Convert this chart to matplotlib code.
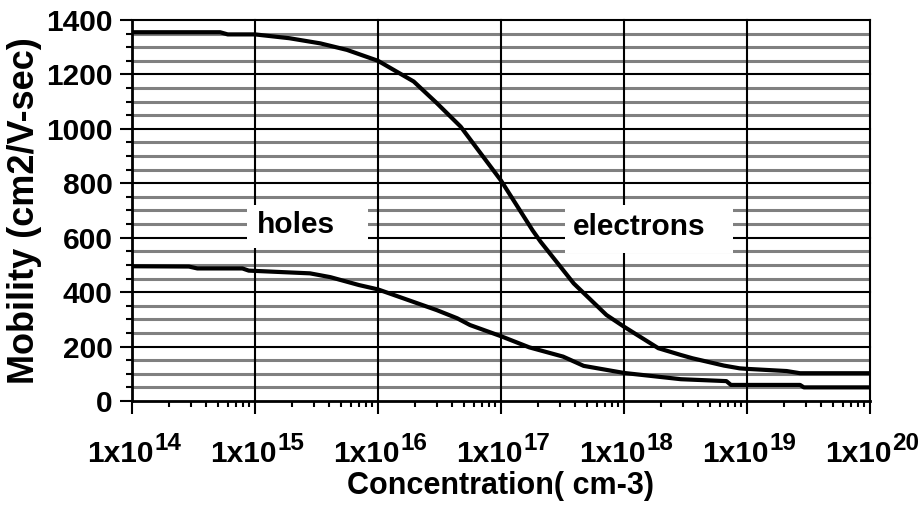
import matplotlib
matplotlib.use('Agg')
import numpy as np
import matplotlib.pyplot as plt
from matplotlib.patches import Rectangle
from matplotlib.ticker import FixedLocator, LogLocator, MultipleLocator, NullFormatter

plt.rcParams['font.family'] = 'Liberation Sans'
plt.rcParams['font.weight'] = 'bold'

# electron mobility vs doping (cm-3, cm2/V-sec)
elec_conc = [1e14, 5.2e14, 6e14, 1e15, 1.9e15, 3.4e15, 5.6e15, 1e16, 1.95e16, 3e16,
             4.7e16, 1e17, 1.8e17, 2.1e17, 3.9e17, 7.2e17, 1e18, 1.9e18, 2.9e18,
             3.6e18, 6.5e18, 8.7e18, 1e19, 2.1e19, 2.7e19, 1e20]
elec_mob = [1355, 1355, 1347, 1347, 1333, 1314, 1290, 1250, 1174, 1095,
            1008, 810, 628, 585, 432, 316, 273, 194, 169,
            157, 130, 120, 118, 110, 102, 102]

# hole mobility vs doping
hole_conc = [1e14, 2.9e14, 3.4e14, 7.9e14, 8.9e14, 2.8e15, 4.1e15, 7e15, 1e16, 3e16,
             4.4e16, 5.6e16, 1e17, 1.7e17, 3.2e17, 4.7e17, 1e18, 2.9e18, 6.8e18,
             7.4e18, 2.7e19, 2.9e19, 1e20]
hole_mob = [495, 494, 487, 487, 479, 469, 455, 426, 410, 334,
            304, 279, 238, 197, 163, 129, 103, 80, 73,
            59, 59, 50, 50]

xticks = [1e14, 1e15, 1e16, 1e17, 1e18, 1e19, 1e20]
xtick_exps = ['14', '15', '16', '17', '18', '19', '20']

my_dpi = 100
fig = plt.figure(figsize=(918/my_dpi, 511/my_dpi), dpi=my_dpi)
ax = fig.add_axes([0.1438, 0.2153, 0.8039, 0.7456])

ax.set_xscale('log')
ax.set_xlim(1e14, 1e20)
ax.set_ylim(0, 1400)

# grid: gray every 50, black every 200 and each decade
for v in range(50, 1400, 50):
    if v % 200 != 0:
        ax.axhline(v, color='#808080', lw=2.2, zorder=1)
for v in range(200, 1401, 200):
    ax.axhline(v, color='black', lw=1.5, zorder=2, clip_on=False)
for xv in xticks[1:]:
    ax.axvline(xv, color='black', lw=1.5, zorder=2, clip_on=False)

ax.plot(elec_conc, elec_mob, color='black', lw=3, zorder=4)
ax.plot(hole_conc, hole_mob, color='black', lw=3, zorder=4)

# white label boxes
ax.add_patch(Rectangle((0.1558, 0.4016), 0.164, 0.1128, transform=ax.transAxes,
                       facecolor='white', edgecolor='none', zorder=5))
ax.add_patch(Rectangle((0.5867, 0.3885), 0.2277, 0.1259, transform=ax.transAxes,
                       facecolor='white', edgecolor='none', zorder=5))
ax.text(1.04e15, 617, 'holes', fontsize=21.5, fontweight='bold', ha='left', va='baseline', zorder=6)
ax.text(3.85e17, 610, 'electrons', fontsize=21.5, fontweight='bold', ha='left', va='baseline', zorder=6)

ax.xaxis.set_major_locator(FixedLocator(xticks))
ax.xaxis.set_minor_locator(LogLocator(base=10, subs=np.arange(2, 10)))
ax.xaxis.set_minor_formatter(NullFormatter())
ax.yaxis.set_major_locator(MultipleLocator(200))
ax.yaxis.set_minor_locator(MultipleLocator(50))

ax.tick_params(axis='both', which='major', direction='out', length=9, width=1.5,
               labelsize=21.5, pad=5)
ax.tick_params(axis='both', which='minor', direction='out', length=4.5, width=1.5)
ax.tick_params(axis='x', labelbottom=False)
for lbl in ax.get_yticklabels():
    lbl.set_fontweight('bold')

# x tick labels 1x10^n with superscript
for xv, e in zip(xticks, xtick_exps):
    ax.annotate('1x10', xy=(xv, 0), xycoords=('data', 'axes fraction'),
                xytext=(15.5, -43.9), textcoords='offset points',
                ha='right', va='baseline', fontsize=21.5, fontweight='bold', annotation_clip=False)
    ax.annotate(e, xy=(xv, 0), xycoords=('data', 'axes fraction'),
                xytext=(16.2, -35.3), textcoords='offset points',
                ha='left', va='baseline', fontsize=17.5, fontweight='bold', annotation_clip=False)

for s in ['top', 'right']:
    ax.spines[s].set_visible(False)
for s in ['left', 'bottom']:
    ax.spines[s].set_linewidth(2)
    ax.spines[s].set_zorder(6)

ax.set_xlabel('Concentration( cm-3)', fontsize=22, fontweight='bold', va='top')
ax.xaxis.set_label_coords(0.5, -0.185)
ax.set_ylabel('Mobility (cm2/V-sec)', fontsize=26, fontweight='bold')
ax.yaxis.set_label_coords(-0.122, 0.5)

plt.savefig('out.png', dpi=my_dpi)
plt.close()
